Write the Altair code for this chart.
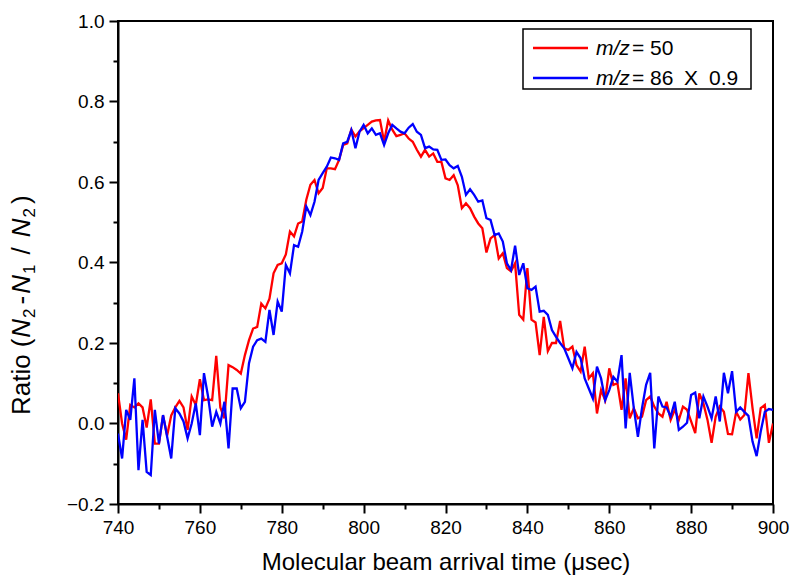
import altair as alt
import pandas as pd

time_us = list(range(740, 901))

ratio_mz50 = [
    0.075, 0.0, -0.04, 0.046, 0.04, 0.05, 0.04, -0.01, 0.06, -0.05,
    -0.05, 0.02, -0.03, 0.02, 0.04, 0.056, 0.04, -0.016, 0.067, 0.046,
    0.11, 0.058, 0.06, 0.058, 0.168, 0.04, 0.013, 0.145, 0.14, 0.133,
    0.124, 0.17, 0.207, 0.236, 0.24, 0.298, 0.286, 0.31, 0.373, 0.394,
    0.398, 0.42, 0.477, 0.465, 0.497, 0.502, 0.556, 0.593, 0.605, 0.572,
    0.585, 0.634, 0.634, 0.632, 0.655, 0.692, 0.696, 0.73, 0.713, 0.726,
    0.734, 0.742, 0.75, 0.753, 0.754, 0.70, 0.753, 0.73, 0.714, 0.717,
    0.721, 0.708, 0.70, 0.68, 0.663, 0.68, 0.663, 0.671, 0.65, 0.65,
    0.609, 0.605, 0.617, 0.592, 0.535, 0.547, 0.535, 0.514, 0.497, 0.485,
    0.425, 0.46, 0.468, 0.41, 0.423, 0.386, 0.378, 0.398, 0.27, 0.258,
    0.386, 0.258, 0.251, 0.17, 0.265, 0.18, 0.2, 0.2, 0.255, 0.187,
    0.183, 0.191, 0.145, 0.129, 0.191, 0.112, 0.125, 0.025, 0.083, 0.058,
    0.137, 0.096, 0.100, 0.034, 0.112, 0.013, 0.038, 0.013, 0.017, 0.058,
    0.067, 0.042, 0.025, 0.017, 0.054, 0.009, 0.034, 0.009, 0.042, 0.034,
    0.005, -0.024, 0.075, 0.050, 0.009, -0.048, 0.017, 0.042, 0.029, -0.026,
    -0.027, 0.029, 0.010, 0.021, 0.125, 0.038, -0.037, 0.038, 0.046, -0.048,
    0.0,
]

ratio_mz86 = [
    -0.025, -0.087, 0.034, 0.009, 0.112, -0.116, 0.009, -0.12, -0.128, 0.034,
    -0.05, 0.021, -0.033, -0.087, 0.038, 0.025, 0.005, -0.037, 0.0, 0.05,
    -0.029, 0.125, 0.067, -0.008, 0.029, 0.0, 0.054, -0.062, 0.087, 0.087,
    0.038, 0.054, 0.15, 0.191, 0.207, 0.211, 0.203, 0.282, 0.22, 0.303,
    0.278, 0.394, 0.373, 0.443, 0.439, 0.477, 0.539, 0.518, 0.551, 0.605,
    0.622, 0.638, 0.661, 0.659, 0.655, 0.696, 0.70, 0.729, 0.684, 0.725,
    0.742, 0.721, 0.733, 0.717, 0.721, 0.692, 0.721, 0.742, 0.733, 0.725,
    0.721, 0.735, 0.744, 0.725, 0.717, 0.684, 0.688, 0.681, 0.68, 0.655,
    0.656, 0.642, 0.634, 0.64, 0.613, 0.568, 0.582, 0.568, 0.551, 0.554,
    0.51, 0.506, 0.468, 0.472, 0.452, 0.398, 0.381, 0.442, 0.369, 0.398,
    0.336, 0.332, 0.34, 0.278, 0.28, 0.27, 0.232, 0.215, 0.2, 0.187,
    0.162, 0.137, 0.178, 0.162, 0.112, 0.087, 0.062, 0.141, 0.112, 0.058,
    0.083, 0.116, 0.104, 0.170, -0.012, 0.126, 0.038, -0.033, 0.038, 0.096,
    0.126, -0.062, 0.067, 0.042, 0.040, 0.017, 0.054, -0.016, -0.008, 0.002,
    0.071, 0.077, 0.013, 0.067, 0.042, 0.013, 0.067, 0.005, 0.126, 0.075,
    0.130, 0.029, 0.040, 0.029, 0.019, -0.045, -0.081, -0.020, 0.029, 0.036,
    0.034,
]

series_names = ["m/z = 50", "m/z = 86 X 0.9"]
series_colors = ["#FF0000", "#0000FF"]
x_ticks = list(range(740, 901, 10))
y_ticks = [-0.2, -0.1, 0.0, 0.1, 0.2, 0.3, 0.4, 0.5, 0.6, 0.7, 0.8, 0.9, 1.0]
x_title = "Molecular beam arrival time (\u03bcsec)"
# y title pieces: (text, italic, subscript, extra gap after)
y_title_parts = [("Ratio", False, False, 7), ("(", False, False, 1), ("N", True, False, 1),
                 ("2", False, True, 4), ("-", False, False, 2), ("N", True, False, 1),
                 ("1", False, True, 10), ("/", False, False, 10), ("N", True, False, 1),
                 ("2", False, True, 4), (")", False, False, 0)]

df = pd.DataFrame({
    "t": time_us * 2,
    "ratio": ratio_mz50 + ratio_mz86,
    "series": [series_names[0]] * len(time_us) + [series_names[1]] * len(time_us),
    "order": [0] * len(time_us) + [1] * len(time_us),
})

FONT = "Liberation Sans"
EM = {'R': .722, 'a': .556, 't': .278, 'i': .222, 'o': .556, ' ': .278, '(': .333,
      ')': .333, 'N': .722, '-': .333, '/': .278, 'm': .833, 'z': .5, '=': .584,
      'X': .667, '.': .278}


def text_width(s, size):
    return sum(EM.get(c, .556) for c in s) * size


x_enc = alt.X(
    "t:Q",
    scale=alt.Scale(domain=[740, 900], nice=False, zero=False),
    axis=alt.Axis(
        values=x_ticks,
        format="d",
        labelExpr="datum.value % 20 === 0 ? datum.label : ''",
        tickSize={"condition": {"test": "datum.value % 20 === 0", "value": 9}, "value": 5},
        tickWidth=2,
        tickColor="black",
        domainColor="black",
        domainWidth=2,
        grid=False,
        labelFont=FONT,
        labelFontSize=19,
        labelColor="black",
        labelPadding=5,
        labelFlush=False,
        labelOverlap=False,
        title=x_title,
        titleFont=FONT,
        titleFontSize=24,
        titleFontWeight="normal",
        titleColor="black",
        titlePadding=13,
    ),
)

y_enc = alt.Y(
    "ratio:Q",
    scale=alt.Scale(domain=[-0.2, 1.0], nice=False, zero=False),
    axis=alt.Axis(
        values=y_ticks,
        format=".1f",
        labelExpr="round(datum.value * 10) % 2 === 0 ? datum.label : ''",
        tickSize={"condition": {"test": "round(datum.value * 10) % 2 === 0", "value": 9}, "value": 5},
        tickWidth=2,
        tickColor="black",
        domainColor="black",
        domainWidth=2,
        grid=False,
        labelFont=FONT,
        labelFontSize=19,
        labelColor="black",
        labelPadding=5,
        labelFlush=False,
        labelOverlap=False,
        title=None,
    ),
)

lines = alt.Chart(df).mark_line(strokeWidth=2.3, clip=True).encode(
    x=x_enc,
    y=y_enc,
    color=alt.Color("series:N", scale=alt.Scale(domain=series_names, range=series_colors), legend=None),
    order=alt.Order("order:Q"),
    detail="series:N",
)

one = pd.DataFrame({"k": [0]})


def txt(s, x, y, italic=False, size=21, angle=0, baseline="alphabetic"):
    kw = dict(text=s, font=FONT, fontSize=size, fontStyle="italic" if italic else "normal",
              align="left", baseline=baseline, color="black")
    if angle:
        kw["angle"] = angle
    return alt.Chart(one).mark_text(**kw).encode(x=alt.value(x), y=alt.value(y))


# ---- y axis title, built from pieces (rotated, reading upward) ----
YT_SIZE = 26
SUB_SIZE = 17
base_x = -88          # baseline position (left of axis)
pos_y = 394           # start (bottom) of the title
y_title_layers = []
for s, it, sub, gap in y_title_parts:
    size = SUB_SIZE if sub else YT_SIZE
    bx = base_x + (5 if sub else 0)
    y_title_layers.append(txt(s, bx, pos_y, italic=it, size=size, angle=270))
    pos_y -= text_width(s, size) + gap

# ---- legend ----
legend_box = alt.Chart(one).mark_rect(fill="white", stroke="black", strokeWidth=1.5).encode(
    x=alt.value(405), x2=alt.value(633), y=alt.value(8), y2=alt.value(68)
)
leg_line1 = alt.Chart(one).mark_rule(color=series_colors[0], strokeWidth=2.3).encode(
    x=alt.value(415), x2=alt.value(470), y=alt.value(27)
)
leg_line2 = alt.Chart(one).mark_rule(color=series_colors[1], strokeWidth=2.3).encode(
    x=alt.value(415), x2=alt.value(470), y=alt.value(57)
)
legend_parts = [
    txt("m/z", 478, 34, italic=True),
    txt("=", 514, 34),
    txt("50", 532, 34),
    txt("m/z", 478, 64, italic=True),
    txt("=", 514, 64),
    txt("86", 532, 64),
    txt("X", 566, 64),
    txt("0.9", 591, 64),
]

chart = alt.layer(lines, legend_box, leg_line1, leg_line2, *legend_parts, *y_title_layers).properties(
    width=655,
    height=483,
    autosize=alt.AutoSizeParams(type="none"),
    padding={"left": 118, "top": 21, "right": 17, "bottom": 71},
    background="white",
).configure_view(stroke="black", strokeWidth=2)

chart.save("out.html", embed_options={"renderer": "svg", "actions": False})
